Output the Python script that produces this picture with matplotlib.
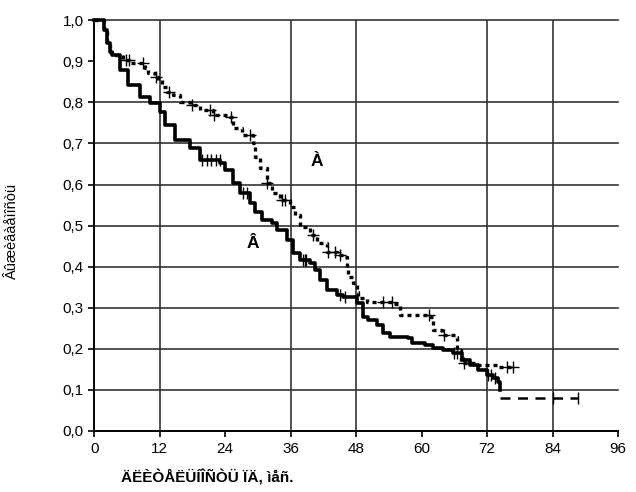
import numpy as np
import matplotlib
matplotlib.use('Agg')
import matplotlib.pyplot as plt

plt.rcParams['font.family'] = ['Liberation Sans', 'DejaVu Sans']

# Kaplan-Meier curves: time of each drop (months) and survival after it
months_a = [0, 1.8, 2.4, 2.9, 3.3, 5.3, 6.6, 9.3, 9.9, 11.2, 11.7, 12.5, 13.4, 14.5, 15.8,
            17.6, 19.4, 21.8, 24.9, 25.5, 27.1, 29.1, 29.5, 30.4, 31.7, 32.6, 34.1, 35.9,
            36.8, 37.7, 39.6, 40.9, 42.7, 44.5, 45.6, 46.4, 46.5, 47.5, 48.2, 48.4, 50.0,
            54.8, 56.1, 61.6, 62.1, 63.8, 66.1, 66.5, 67.2, 70.2, 73.8, 76.8]
surv_a = [1.0, 0.976, 0.944, 0.922, 0.915, 0.903, 0.895, 0.883, 0.871, 0.861, 0.854, 0.837,
          0.825, 0.818, 0.800, 0.793, 0.781, 0.769, 0.764, 0.737, 0.720, 0.701, 0.667, 0.640,
          0.603, 0.579, 0.562, 0.545, 0.526, 0.496, 0.477, 0.457, 0.436, 0.428, 0.423, 0.399,
          0.375, 0.360, 0.338, 0.324, 0.314, 0.309, 0.282, 0.277, 0.246, 0.234, 0.229, 0.197,
          0.165, 0.161, 0.156, 0.156]

months_b = [0, 1.8, 2.4, 2.9, 3.3, 4.8, 6.2, 8.4, 10.3, 12.1, 13.0, 14.8, 17.6, 19.4, 23.1,
            24.0, 25.5, 26.7, 28.6, 29.5, 30.8, 32.6, 33.5, 35.4, 36.5, 37.7, 39.6, 40.5,
            41.4, 42.7, 44.5, 45.6, 48.2, 49.3, 50.2, 51.9, 53.0, 54.2, 57.5, 58.3, 60.6,
            62.1, 63.9, 65.8, 67.4, 68.9, 70.4, 72.0, 73.1, 74.0, 74.4]
surv_b = [1.0, 0.976, 0.944, 0.922, 0.915, 0.878, 0.842, 0.813, 0.798, 0.776, 0.745, 0.708,
          0.689, 0.659, 0.652, 0.635, 0.603, 0.579, 0.555, 0.533, 0.513, 0.506, 0.489, 0.465,
          0.433, 0.416, 0.409, 0.392, 0.367, 0.343, 0.331, 0.326, 0.311, 0.277, 0.270, 0.258,
          0.238, 0.229, 0.226, 0.214, 0.209, 0.202, 0.197, 0.190, 0.173, 0.161, 0.148, 0.136,
          0.129, 0.119, 0.100]
tail_months_b = [74.4, 88.7]
tail_surv_b = [0.08, 0.08]

# censored observations (months)
cens_a = [5.8, 6.4, 8.9, 11.4, 13.8, 17.9, 21.3, 22.0, 25.0, 28.6, 31.7, 34.5, 35.0, 40.1,
          42.9, 44.2, 45.0, 53.0, 54.6, 61.3, 64.0, 67.8, 75.7, 76.8]
cens_b = [19.8, 20.6, 21.4, 22.3, 23.0, 27.2, 28.0, 38.3, 38.6, 38.9, 45.0, 46.0, 65.9,
          66.4, 72.2, 72.7, 73.4, 84.0, 88.7]

x_ticks = [0, 12, 24, 36, 48, 60, 72, 84, 96]
y_ticks = np.round(np.arange(0, 1.01, 0.1), 1)
x_grid = [12, 36, 48, 72, 84]
y_grid = [0.1, 0.2, 0.3, 0.4, 0.5, 0.6, 0.7, 0.8, 1.0]


def step_value(t, months, surv):
    idx = np.searchsorted(months, t, side='right') - 1
    return surv[max(idx, 0)]


fig = plt.figure(figsize=(6.36, 4.92), dpi=100)
ax = fig.add_axes([0.148, 0.124, 0.824, 0.835])

for g in x_grid:
    ax.axvline(g, color='#333333', lw=1.2, zorder=1)
for g in y_grid:
    ax.axhline(g, color='#333333', lw=1.2, zorder=1, clip_on=False)

ax.step(months_a, surv_a, where='post', color='black', lw=2.4,
        linestyle=(0, (1.2, 1.2)), zorder=3, clip_on=False)
ax.step(months_b, surv_b, where='post', color='black', lw=2.6, zorder=3, clip_on=False)
ax.plot(tail_months_b, tail_surv_b, color='black', lw=1.8, linestyle=(0, (4, 3)), zorder=3)

ya = [step_value(t, months_a, surv_a) for t in cens_a]
ax.plot(cens_a, ya, '+', color='black', ms=9, mew=1.0, zorder=4)
yb = [step_value(t, months_b, surv_b) if t < 74.4 else tail_surv_b[0] for t in cens_b]
ax.plot(cens_b, yb, '|', color='black', ms=8, mew=1.0, zorder=4)

ax.text(40.8, 0.655, 'À', fontsize=12.5, fontweight='bold', ha='center', va='center')
ax.text(29.1, 0.457, 'Â', fontsize=12.5, fontweight='bold', ha='center', va='center')

ax.set_xlim(0, 96)
ax.set_ylim(0, 1.0)
ax.set_xticks(x_ticks)
ax.set_yticks(y_ticks)
ax.set_yticklabels([f'{v:.1f}'.replace('.', ',') for v in y_ticks])
ax.tick_params(direction='out', length=4, width=1.2, labelsize=11, colors='black')
ax.tick_params(axis='x', pad=4)

for s in ['top', 'right']:
    ax.spines[s].set_visible(False)
for s in ['left', 'bottom']:
    ax.spines[s].set_linewidth(1.4)

fig.text(0.019, 0.53, 'Âûæèâàåìîñòü', fontsize=10.5, rotation=90,
         ha='center', va='center')
fig.text(0.19, 0.0285, 'ÄËÈÒÅËÜÍÎÑÒÜ ÏÄ, ìåñ.', fontsize=11, fontweight='bold',
         ha='left', va='center')

plt.savefig('out.png', dpi=100)
